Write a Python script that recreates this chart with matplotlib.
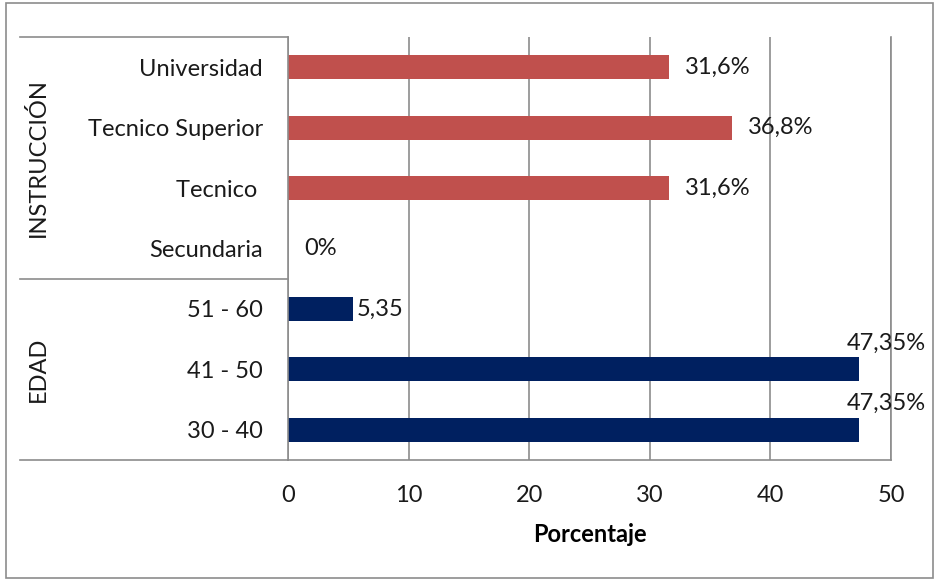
import matplotlib.pyplot as plt
from matplotlib.patches import Rectangle
from matplotlib.lines import Line2D

# bottom-to-top order
categories = ["30 - 40", "41 - 50", "51 - 60", "Secundaria", "Tecnico ", "Tecnico Superior", "Universidad"]
values = [47.35, 47.35, 5.35, 0, 31.6, 36.8, 31.6]
value_labels = ["47,35%", "47,35%", "5,35", "0%", "31,6%", "36,8%", "31,6%"]
groups = ["EDAD", "EDAD", "EDAD", "INSTRUCCIÓN", "INSTRUCCIÓN", "INSTRUCCIÓN", "INSTRUCCIÓN"]
group_names = ["EDAD", "INSTRUCCIÓN"]
x_ticks = [0, 10, 20, 30, 40, 50]

colors = {"EDAD": "#002060", "INSTRUCCIÓN": "#C0504D"}
# label offsets in pixels (dx, dy) from the bar end
label_offsets = [(27, 26, "center"), (27, 26, "center"), (4, 0, "left"),
                 (16, 0, "left"), (16, 0, "left"), (16, 0, "left"), (16, 0, "left")]

plt.rcParams["font.family"] = ["Lato", "DejaVu Sans"]
FS = 17
W, H = 939, 581
fig = plt.figure(figsize=(W / 100, H / 100), dpi=100)
fig.patches.append(Rectangle((6 / W, 3 / H), (933 - 6) / W, (575 - 0) / H, transform=fig.transFigure,
                             fill=False, edgecolor="#8c8c8c", linewidth=1.2))

x0, x1, y0, y1 = 288, 891, 37, 460
ax = fig.add_axes([x0 / W, 1 - y1 / H, (x1 - x0) / W, (y1 - y0) / H])

ys = list(range(len(categories)))
ax.barh(ys, values, height=0.4, color=[colors[g] for g in groups])

for y, v, lab, (dx, dy, ha) in zip(ys, values, value_labels, label_offsets):
    ax.annotate(lab, (v, y), xytext=(dx * 0.72, dy * 0.72), textcoords="offset points",
                ha=ha, va="center", fontsize=FS, color="#1a1a1a")

ax.set_xlim(0, 50)
ax.set_ylim(-0.5, len(categories) - 0.5)
ax.set_xticks(x_ticks)
ax.set_yticks(ys)
ax.set_yticklabels(categories)
ax.tick_params(axis="both", length=0, labelsize=FS, colors="#1a1a1a")
ax.tick_params(axis="y", pad=18)
ax.tick_params(axis="x", pad=18)
ax.grid(axis="x", color="#8c8c8c", linewidth=1.2)
ax.set_axisbelow(True)
ax.spines["top"].set_visible(False)
for side in ["left", "right", "bottom"]:
    ax.spines[side].set_color("#8c8c8c")
    ax.spines[side].set_linewidth(1.2)

ax.set_xlabel("Porcentaje", fontsize=FS, fontweight="bold", labelpad=12)

# group separators extending to the left
left_ax = (20 - x0) / (x1 - x0)
trans = ax.get_yaxis_transform()
n_edad = groups.count("EDAD")
for yy in [-0.5, n_edad - 0.5, len(categories) - 0.5]:
    ax.add_line(Line2D([left_ax, 0], [yy, yy], transform=trans, color="#8c8c8c",
                       linewidth=1.2, clip_on=False))

# group labels
starts = [0, n_edad]
ends = [n_edad, len(categories)]
for name, s, e in zip(group_names, starts, ends):
    ax.text((38 - x0) / (x1 - x0), (s + e - 1) / 2, name, transform=trans, rotation=90,
            ha="center", va="center", fontsize=FS, color="#1a1a1a")

fig.savefig("out.png", dpi=100)
